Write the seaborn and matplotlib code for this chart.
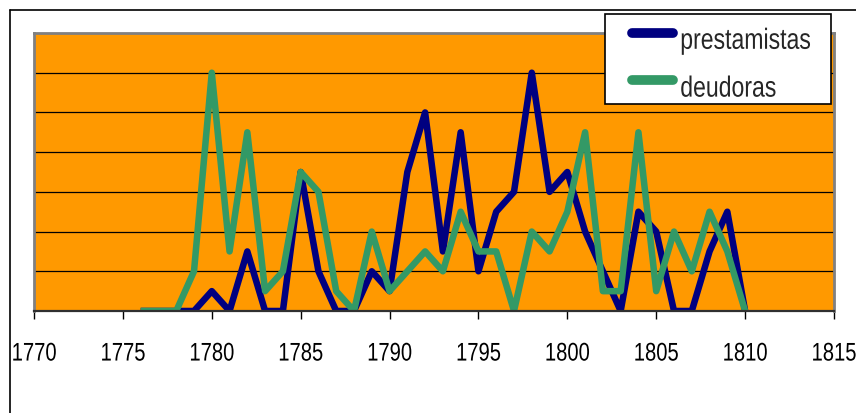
import matplotlib
matplotlib.use("Agg")
import matplotlib.pyplot as plt
from matplotlib.lines import Line2D
from matplotlib.legend_handler import HandlerLine2D
from matplotlib.patheffects import AbstractPathEffect
from matplotlib.transforms import Affine2D
import seaborn as sns
import pandas as pd

years = list(range(1776, 1811))
prestamistas = [0, 0, 0, 0, 1, 0, 3, 0, 0, 7, 2, 0, 0, 2, 1, 7, 10, 3, 9, 2,
                5, 6, 12, 6, 7, 4, 2, 0, 5, 4, 0, 0, 3, 5, 0]
deudoras = [0, 0, 0, 2, 12, 3, 9, 1, 2, 7, 6, 1, 0, 4, 1, 2, 3, 2, 5, 3,
            3, 0, 4, 3, 5, 9, 1, 1, 9, 1, 4, 2, 5, 3, 0]
series_names = ["prestamistas", "deudoras"]
xticks = list(range(1770, 1816, 5))

sns.set_theme(style="white")
plt.rcParams["font.family"] = ["Liberation Sans", "DejaVu Sans"]

SQ = 0.79  # horizontal squeeze of the narrow typeface


class HSqueeze(AbstractPathEffect):
    """Draw text horizontally condensed (like Arial Narrow)."""

    def __init__(self, sx, anchor="center", dy=0.0):
        super().__init__()
        self.sx = sx
        self.anchor = anchor
        self.dy = dy

    def draw_path(self, renderer, gc, tpath, affine, rgbFace=None):
        if self.anchor == "center":
            ext = tpath.get_extents(affine)
            x0 = (ext.x0 + ext.x1) / 2
        else:
            x0 = affine.transform((0, 0))[0]
        new = affine + Affine2D().translate(-x0, 0).scale(self.sx, 1).translate(x0, self.dy)
        renderer.draw_path(gc, tpath, new, rgbFace)


df = pd.DataFrame({
    "year": years * 2,
    "value": prestamistas + deudoras,
    "serie": [series_names[0]] * len(years) + [series_names[1]] * len(years),
})

W, H = 856, 414
fig = plt.figure(figsize=(W / 100, H / 100), dpi=100)
ax = fig.add_axes([34 / W, 1 - 312 / H, 800 / W, 278 / H])
ax.set_facecolor("#FF9900")

palette = {"prestamistas": "#000080", "deudoras": "#339966"}
sns.lineplot(data=df, x="year", y="value", hue="serie", hue_order=series_names,
             palette=palette, linewidth=4.7, ax=ax, legend=False,
             solid_joinstyle="round", solid_capstyle="butt")

ax.set_xlim(1770, 1815)
ax.set_ylim(0, 14)
ax.set_xticks(xticks)
ax.set_xticklabels([str(t) for t in xticks], fontsize=18.4, color="black")
for lab in ax.get_xticklabels():
    lab.set_path_effects([HSqueeze(SQ, "center")])
ax.set_yticks([2, 4, 6, 8, 10, 12])
ax.set_yticklabels([])
ax.yaxis.grid(True, color="black", linewidth=0.9)
ax.xaxis.grid(False)
ax.set_axisbelow(True)
ax.set_xlabel("")
ax.set_ylabel("")
ax.tick_params(axis="x", direction="out", length=6, width=1, color="black",
               pad=16, bottom=True)
ax.tick_params(axis="y", length=0)
for s in ["top", "left", "right"]:
    ax.spines[s].set_color("#808080")
    ax.spines[s].set_linewidth(2)
ax.spines["bottom"].set_color("#303030")
ax.spines["bottom"].set_linewidth(1.6)

# outer chart border
fig.add_artist(Line2D([9.5 / W, 9.5 / W], [0, 1 - 11 / H], color="black", lw=1.2,
                      transform=fig.transFigure))
fig.add_artist(Line2D([9.5 / W, 1], [1 - 11 / H, 1 - 11 / H], color="black", lw=1.2,
                      transform=fig.transFigure))

LFS = 21
BPAD = 0.25
handles = [Line2D([], [], color=palette[n], lw=7, solid_capstyle="round") for n in series_names]
leg = ax.legend(handles, series_names, loc="upper left",
                bbox_to_anchor=(605 / W, 1 - 14.5 / H), bbox_transform=fig.transFigure,
                borderaxespad=0, fontsize=LFS, frameon=True, fancybox=False,
                edgecolor="black", facecolor="white", framealpha=1,
                handlelength=2.09, handletextpad=0.24, labelspacing=0.68,
                borderpad=BPAD,
                handler_map={Line2D: HandlerLine2D(xpad=0.665)})
leg.get_frame().set_linewidth(1.2)
leg.set_zorder(10)
for t in leg.get_texts():
    t.set_path_effects([HSqueeze(SQ, "left", dy=-6)])

frame = leg.get_frame()
_orig_set_bounds = frame.set_bounds


def _squeezed_bounds(*args):
    l, b, w, h = args[0] if len(args) == 1 else args
    r = fig.canvas.get_renderer()
    maxw = max(t.get_window_extent(r).width for t in leg.get_texts())
    pad_px = BPAD * LFS * fig.dpi / 72
    _orig_set_bounds(l, b, w - maxw * (1 - SQ) - pad_px + 20, h)


frame.set_bounds = _squeezed_bounds

fig.savefig("out.png", dpi=100)
